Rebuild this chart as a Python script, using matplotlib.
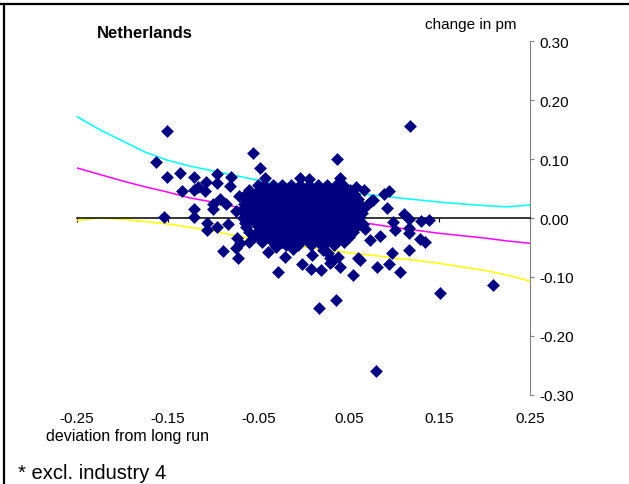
import matplotlib
matplotlib.use("Agg")
import matplotlib.pyplot as plt
from matplotlib.lines import Line2D

plt.rcParams['font.family'] = ['Liberation Sans', 'DejaVu Sans']

# band curves (x grid shared by the three lines)
band_x = [-0.25, -0.225, -0.20, -0.175, -0.15, -0.125, -0.10, -0.075, -0.05, -0.025, 0.0,
          0.025, 0.05, 0.075, 0.10, 0.125, 0.15, 0.175, 0.20, 0.225, 0.25]
upper_band = [0.172, 0.150, 0.131, 0.112, 0.098, 0.088, 0.080, 0.072, 0.064, 0.058, 0.053,
              0.048, 0.043, 0.039, 0.035, 0.031, 0.027, 0.024, 0.021, 0.019, 0.022]
mid_line = [0.085, 0.074, 0.063, 0.053, 0.044, 0.034, 0.027, 0.019, 0.013, 0.007, 0.002,
            -0.002, -0.006, -0.010, -0.016, -0.021, -0.026, -0.030, -0.034, -0.039, -0.043]
lower_band = [-0.004, 0.000, -0.002, -0.006, -0.010, -0.016, -0.022, -0.030, -0.037, -0.044, -0.049,
              -0.054, -0.059, -0.063, -0.068, -0.072, -0.077, -0.083, -0.089, -0.097, -0.107]

# scattered observations outside the dense core
obs_x = [-0.163, -0.151, -0.151, -0.136, -0.121, -0.134, -0.121, -0.116, -0.109, -0.108,
         -0.096, -0.096, -0.080, -0.081, -0.092, -0.121, -0.121, -0.154, -0.100, -0.100,
         -0.085, -0.107, -0.106, -0.096, -0.083, -0.089, -0.074, -0.072, -0.056, -0.048,
         -0.042, -0.004, 0.006, 0.037, 0.040, 0.058, 0.067, 0.094, 0.089, 0.077,
         0.075, 0.092, 0.111, 0.117, 0.130, 0.139, 0.099, 0.101, 0.116, 0.117,
         0.129, 0.134, 0.116, 0.098, 0.081, 0.094, 0.106, 0.062, 0.084, 0.073,
         0.066, 0.118, -0.052, -0.039, -0.030, -0.020, -0.028, -0.002, 0.008, 0.009,
         0.019, 0.029, 0.029, 0.038, 0.040, 0.055, 0.060, 0.027, 0.031, 0.017,
         0.036, 0.080, 0.151, 0.209, -0.073, -0.070, -0.060, -0.071, -0.075, 0.070,
         0.068, -0.012, 0.021]
obs_y = [0.095, 0.147, 0.070, 0.076, 0.070, 0.046, 0.047, 0.052, 0.045, 0.061,
         0.074, 0.060, 0.070, 0.054, 0.033, 0.016, 0.002, 0.002, 0.023, 0.015,
         0.023, -0.008, -0.020, -0.016, -0.010, -0.056, -0.051, -0.068, 0.110, 0.085,
         0.068, 0.068, 0.066, 0.100, 0.068, 0.052, 0.048, 0.046, 0.040, 0.031,
         0.029, 0.017, 0.007, -0.001, -0.005, -0.003, -0.006, -0.020, -0.017, -0.025,
         -0.035, -0.041, -0.055, -0.059, -0.083, -0.078, -0.091, -0.071, -0.031, -0.037,
         -0.011, 0.156, -0.025, -0.057, -0.050, -0.066, -0.091, -0.078, -0.086, -0.063,
         -0.088, -0.076, -0.068, -0.067, -0.083, -0.097, -0.068, -0.059, -0.073, -0.152,
         -0.139, -0.260, -0.127, -0.113, -0.034, -0.043, -0.040, 0.038, 0.012, 0.022,
         -0.018, -0.052, -0.054]

# dense core, read row by row (row level, then x positions in that row)
core_rows_y = [0.056, 0.048, 0.040, 0.032, 0.024, 0.016, 0.008, 0.000,
               -0.008, -0.016, -0.024, -0.032, -0.040, -0.046]
core_rows_x = [
    [-0.050, -0.044, -0.034, -0.024, -0.014, -0.004, 0.006, 0.016, 0.026, 0.036, 0.044],
    [-0.060, -0.049, -0.039, -0.029, -0.019, -0.009, 0.001, 0.011, 0.021, 0.031, 0.041, 0.051],
    [-0.063, -0.054, -0.044, -0.034, -0.024, -0.014, -0.004, 0.006, 0.016, 0.026, 0.036, 0.046, 0.056],
    [-0.065, -0.059, -0.049, -0.039, -0.029, -0.019, -0.009, 0.001, 0.011, 0.021, 0.031, 0.041, 0.051, 0.060],
    [-0.066, -0.054, -0.044, -0.034, -0.024, -0.014, -0.004, 0.006, 0.016, 0.026, 0.036, 0.046, 0.056, 0.062],
    [-0.067, -0.059, -0.049, -0.039, -0.029, -0.019, -0.009, 0.001, 0.011, 0.021, 0.031, 0.041, 0.051, 0.061, 0.065],
    [-0.066, -0.054, -0.044, -0.034, -0.024, -0.014, -0.004, 0.006, 0.016, 0.026, 0.036, 0.046, 0.056, 0.065],
    [-0.067, -0.059, -0.049, -0.039, -0.029, -0.019, -0.009, 0.001, 0.011, 0.021, 0.031, 0.041, 0.051, 0.061],
    [-0.065, -0.054, -0.044, -0.034, -0.024, -0.014, -0.004, 0.006, 0.016, 0.026, 0.036, 0.046, 0.056, 0.062],
    [-0.063, -0.049, -0.039, -0.029, -0.019, -0.009, 0.001, 0.011, 0.021, 0.031, 0.041, 0.051, 0.058],
    [-0.060, -0.044, -0.034, -0.024, -0.014, -0.004, 0.006, 0.016, 0.026, 0.036, 0.046, 0.055],
    [-0.055, -0.049, -0.039, -0.029, -0.019, -0.009, 0.001, 0.011, 0.021, 0.031, 0.041, 0.050],
    [-0.046, -0.034, -0.024, -0.014, -0.004, 0.006, 0.016, 0.026, 0.036, 0.045],
    [-0.032, -0.019, -0.006, 0.008, 0.022, 0.034],
]

x_ticks = [-0.25, -0.15, -0.05, 0.05, 0.15, 0.25]
y_ticks = [0.30, 0.20, 0.10, 0.00, -0.10, -0.20, -0.30]

fig = plt.figure(figsize=(6.29, 4.85), dpi=100)
ax = fig.add_axes([0.1224, 0.1841, 0.7202, 0.7287])
ax.set_xlim(-0.25, 0.25)
ax.set_ylim(-0.30, 0.30)

ax.plot(band_x, upper_band, color="#00ffff", lw=1.1, zorder=2)
ax.plot(band_x, mid_line, color="#ff00ff", lw=1.1, zorder=2)
ax.plot(band_x, lower_band, color="#ffff00", lw=1.1, zorder=2)

core_x, core_y = [], []
for yv, row in zip(core_rows_y, core_rows_x):
    core_x += row
    core_y += [yv] * len(row)

mk = dict(ls="none", marker="D", ms=5.9, color="#000080", mec="#000080", mew=0.4, zorder=3)
ax.plot(core_x, core_y, **mk)
ax.plot(obs_x, obs_y, **mk)

# x axis line through zero, labels kept at the bottom
ax.spines['top'].set_visible(False)
ax.spines['left'].set_visible(False)
ax.spines['bottom'].set_position(('data', 0))
ax.spines['bottom'].set_linewidth(1.1)
ax.set_xticks(x_ticks)
ax.tick_params(axis='x', direction='out', length=3, width=0.8, labelbottom=False)

sec = ax.secondary_xaxis('bottom')
sec.set_xticks(x_ticks)
sec.set_xticklabels(["%.2f" % t for t in x_ticks])
sec.spines['bottom'].set_visible(False)
sec.tick_params(length=0, pad=12, labelsize=11)

# value axis on the right
ax.yaxis.tick_right()
ax.spines['right'].set_color('#808080')
ax.set_yticks(y_ticks)
ax.set_yticklabels(["%.2f" % t for t in y_ticks])
ax.tick_params(axis='y', direction='out', length=3, color='#808080', pad=4, labelsize=11)

fig.text(0.2305, 0.930, "Netherlands", ha="center", va="center", fontsize=12, fontweight="bold")
fig.text(0.749, 0.948, "change in pm", ha="center", va="center", fontsize=11)
fig.text(0.202, 0.099, "deviation from long run", ha="center", va="center", fontsize=11.5)
fig.text(0.0286, 0.0247, "* excl. industry 4", ha="left", va="center", fontsize=14.5)

# frame lines of the original panel
fig.add_artist(Line2D([0, 1], [0.9897, 0.9897], transform=fig.transFigure, color="black", lw=1.6))
fig.add_artist(Line2D([0.0064, 0.0064], [0, 0.9897], transform=fig.transFigure, color="black", lw=1.6))

fig.savefig("out.png", dpi=100)
